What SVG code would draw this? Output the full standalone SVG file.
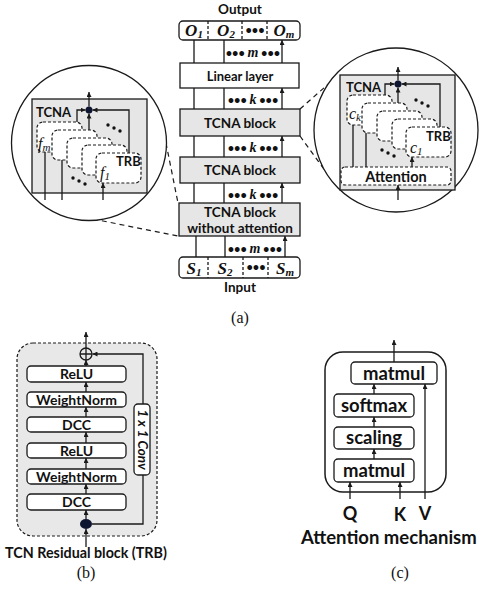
<svg xmlns="http://www.w3.org/2000/svg" width="480" height="593" viewBox="0 0 480 593">
<defs>
<marker id="ah" viewBox="0 0 10 10" refX="10" refY="5" markerWidth="5" markerHeight="5" orient="auto" markerUnits="userSpaceOnUse"><path d="M0,0 L10,5 L0,10 z" fill="#1a1a1a"/></marker>
<style>
.ln{stroke:#1a1a1a;stroke-width:1.3;fill:none}
.a{marker-end:url(#ah)}
.bx{stroke:#1a1a1a;stroke-width:1.3;fill:#fff}
.gy{stroke:#1a1a1a;stroke-width:1.3;fill:#e6e6e6}
.db{stroke:#1a1a1a;stroke-width:1.2;fill:#fff;stroke-dasharray:3,2}
.dl{stroke:#1a1a1a;stroke-width:1.2;fill:none;stroke-dasharray:5,4}
.t{font-family:Lato,'Open Sans',sans-serif;font-weight:bold;fill:#111}
.m{font-family:'Liberation Serif',serif;font-style:italic;fill:#111}
.mb{font-family:'Liberation Serif',serif;font-style:italic;font-weight:bold;fill:#111}
.c{text-anchor:middle}
.s{font-family:'Liberation Serif',serif;fill:#111;text-anchor:middle}
</style>
</defs>

<!-- Panel (a) main column -->
<g id="output-label"><text class="t c" x="240" y="13.5" font-size="13.5">Output</text></g>
<g id="output-row">
<rect class="bx" x="179" y="21" width="121" height="19" rx="4"/>
<line class="ln" x1="208" y1="21" x2="208" y2="40" stroke-dasharray="3,2"/>
<line class="ln" x1="242" y1="21" x2="242" y2="40" stroke-dasharray="3,2"/>
<line class="ln" x1="267" y1="21" x2="267" y2="40" stroke-dasharray="3,2"/>
<text class="mb c" x="194" y="36" font-size="17">O<tspan font-size="11" dy="2">1</tspan></text>
<text class="mb c" x="226" y="36" font-size="17">O<tspan font-size="11" dy="2">2</tspan></text>
<text class="t c" x="255" y="34" font-size="11">•••</text>
<text class="mb c" x="284" y="36" font-size="17">O<tspan font-size="11" dy="2">m</tspan></text>
</g>
<g id="linear-layer"><rect class="bx" x="180" y="63" width="119" height="25"/><text class="t c" x="240" y="80.5" font-size="13">Linear layer</text></g>
<g id="tcna-block-1"><rect class="gy" x="180" y="109" width="120" height="27"/><text class="t c" x="240" y="127.5" font-size="13.5">TCNA block</text></g>
<g id="tcna-block-2"><rect class="gy" x="180" y="157" width="120" height="26"/><text class="t c" x="240" y="175" font-size="13.5">TCNA block</text></g>
<g id="tcna-block-noatt"><rect class="gy" x="179" y="203" width="121" height="33"/><text class="t c" x="240" y="216.5" font-size="13.5">TCNA block</text><text class="t c" x="240" y="232.5" font-size="13.5">without attention</text></g>
<g id="input-row">
<rect class="bx" x="179" y="257" width="121" height="21" rx="4"/>
<line class="ln" x1="208" y1="257" x2="208" y2="278" stroke-dasharray="3,2"/>
<line class="ln" x1="243" y1="257" x2="243" y2="278" stroke-dasharray="3,2"/>
<line class="ln" x1="268" y1="257" x2="268" y2="278" stroke-dasharray="3,2"/>
<text class="mb c" x="194" y="273.5" font-size="17">S<tspan font-size="11" dy="2">1</tspan></text>
<text class="mb c" x="225" y="273.5" font-size="17">S<tspan font-size="11" dy="2">2</tspan></text>
<text class="t c" x="256" y="271" font-size="11">•••</text>
<text class="mb c" x="285" y="273.5" font-size="17">S<tspan font-size="11" dy="2">m</tspan></text>
</g>
<g id="input-label"><text class="t c" x="240" y="292" font-size="13.5">Input</text></g>

<g id="connectors-a">
<path class="ln a" d="M194,63V40M224,63V40M282,63V40"/>
<path class="ln a" d="M194,109V88M224,109V88M282,109V88"/>
<path class="ln a" d="M194,157V136M224,157V136M282,157V136"/>
<path class="ln a" d="M194,203V183M224,203V183M282,203V183"/>
<path class="ln a" d="M196,257V236M225,257V236M285,257V236"/>
<text class="t c" x="253" y="57" font-size="11">••• <tspan class="mb" font-size="14">m</tspan> •••</text>
<text class="t c" x="253" y="104" font-size="11">••• <tspan class="mb" font-size="14">k</tspan> •••</text>
<text class="t c" x="253" y="151.5" font-size="11">••• <tspan class="mb" font-size="14">k</tspan> •••</text>
<text class="t c" x="253" y="198.5" font-size="11">••• <tspan class="mb" font-size="14">k</tspan> •••</text>
<text class="t c" x="255" y="252.5" font-size="11">••• <tspan class="mb" font-size="14">m</tspan> •••</text>
<path class="dl" d="M166,143L178,203M93,219L178,236"/>
<path class="dl" d="M300,109L334,79M300,136L326,172"/>
</g>

<!-- Left zoom circle -->
<g id="zoom-left">
<circle cx="89" cy="143" r="77.5" fill="#fff" stroke="#1a1a1a" stroke-width="1.3"/>
<rect class="gy" x="32" y="99" width="115" height="94"/>
<text class="t" x="36" y="116.5" font-size="13">TCNA</text>
<rect class="db" x="37" y="122" width="45" height="30" rx="6"/>
<rect class="db" x="52" y="130" width="45" height="30" rx="6"/>
<rect class="db" x="67" y="138" width="45" height="30" rx="6"/>
<rect class="db" x="82" y="145" width="45" height="30" rx="6"/>
<rect class="db" x="96" y="153" width="45" height="30" rx="6"/>
<text class="m" x="38" y="149" font-size="16">f<tspan font-size="11" dy="2">m</tspan></text>
<text class="m" x="100" y="178" font-size="16">f<tspan font-size="11" dy="2">1</tspan></text>
<text class="t" x="116" y="166" font-size="13">TRB</text>
<path class="ln a" d="M77,122V110H85.5"/>
<path class="ln a" d="M89,130V113.5"/>
<path class="ln a" d="M129,153V110H92.5"/>
<path class="ln a" d="M89,106.5V92"/>
<circle cx="89" cy="110" r="3.5" fill="#0d1530"/>
<g fill="#111"><circle cx="108" cy="125" r="1.7"/><circle cx="114" cy="128" r="1.7"/><circle cx="120" cy="131" r="1.7"/><circle cx="73" cy="178" r="1.7"/><circle cx="79" cy="181" r="1.7"/><circle cx="85" cy="184" r="1.7"/></g>
<path class="ln a" d="M45,200V152M62,200V160M103,200V183"/>
</g>

<!-- Right zoom circle -->
<g id="zoom-right">
<circle cx="396" cy="130" r="82" fill="#fff" stroke="#1a1a1a" stroke-width="1.3"/>
<rect class="gy" x="340" y="75" width="115" height="115"/>
<text class="t" x="346" y="91.5" font-size="13">TCNA</text>
<rect class="db" x="347" y="95" width="45" height="30" rx="6"/>
<rect class="db" x="362" y="103" width="45" height="30" rx="6"/>
<rect class="db" x="377" y="111" width="45" height="30" rx="6"/>
<rect class="db" x="392" y="119" width="45" height="30" rx="6"/>
<rect class="db" x="406" y="127" width="45" height="30" rx="6"/>
<text class="m" x="349" y="119" font-size="16">c<tspan font-size="11" dy="2">k</tspan></text>
<text class="m" x="410" y="153" font-size="16">c<tspan font-size="11" dy="2">1</tspan></text>
<text class="t" x="426" y="141" font-size="13">TRB</text>
<path class="ln a" d="M385,95V84H394.5"/>
<path class="ln a" d="M398,103V87.5"/>
<path class="ln a" d="M440,127V84H401.5"/>
<path class="ln a" d="M398,80.5V67"/>
<circle cx="398" cy="84" r="3.5" fill="#0d1530"/>
<g fill="#111"><circle cx="416" cy="100" r="1.7"/><circle cx="422" cy="103" r="1.7"/><circle cx="428" cy="106" r="1.7"/><circle cx="382" cy="150" r="1.7"/><circle cx="388" cy="153" r="1.7"/><circle cx="394" cy="156" r="1.7"/></g>
<rect class="db" x="341" y="167" width="110" height="18" rx="4"/>
<text class="t c" x="396" y="181.5" font-size="14.5">Attention</text>
<path class="ln a" d="M353,167V125M366,167V133M412,167V157"/>
<path class="ln a" d="M398,200V185"/>
</g>
<g id="label-a"><text class="s" x="240" y="323" font-size="16">(a)</text></g>

<!-- Panel (b) -->
<g id="trb">
<rect x="17" y="343" width="140" height="193" rx="16" fill="#e8e8e8" stroke="#1a1a1a" stroke-width="1.2" stroke-dasharray="3,2"/>
<circle cx="86" cy="354" r="6" fill="none" stroke="#1a1a1a" stroke-width="1.3"/>
<path class="ln" d="M80,354H92M86,348V360"/>
<path class="ln a" d="M86,348V332"/>
<g id="b-relu2"><rect class="bx" x="27" y="366" width="99" height="16" rx="4"/><text class="t c" x="76.5" y="379" font-size="14">ReLU</text></g>
<g id="b-wn2"><rect class="bx" x="27" y="392" width="99" height="15" rx="4"/><text class="t c" x="76.5" y="404.5" font-size="14">WeightNorm</text></g>
<g id="b-dcc2"><rect class="bx" x="27" y="417" width="99" height="15" rx="4"/><text class="t c" x="76.5" y="429.5" font-size="14">DCC</text></g>
<g id="b-relu1"><rect class="bx" x="27" y="443" width="99" height="15" rx="4"/><text class="t c" x="76.5" y="455.5" font-size="14">ReLU</text></g>
<g id="b-wn1"><rect class="bx" x="27" y="469" width="99" height="15" rx="4"/><text class="t c" x="76.5" y="481.5" font-size="14">WeightNorm</text></g>
<g id="b-dcc1"><rect class="bx" x="27" y="494" width="99" height="16" rx="4"/><text class="t c" x="76.5" y="507" font-size="14">DCC</text></g>
<g id="b-conv"><rect class="bx" x="134" y="404" width="16" height="71" rx="4"/><text class="t c" font-style="italic" font-size="13.5" transform="translate(142,439.5) rotate(90)" y="4.5">1 x 1 Conv</text></g>
<path class="ln a" d="M86,366V360"/>
<path class="ln a" d="M86,392V382"/>
<path class="ln a" d="M86,417V407"/>
<path class="ln a" d="M86,443V432"/>
<path class="ln a" d="M86,469V458"/>
<path class="ln a" d="M86,494V484"/>
<path class="ln a" d="M86,519.5V510"/>
<path class="ln a" d="M86,547V529"/>
<path class="ln" d="M92,524H143V475"/>
<path class="ln a" d="M143,404V354H92.5"/>
<ellipse cx="86" cy="524" rx="6" ry="5" fill="#0d1530"/>
<text class="t c" x="86" y="558" font-size="14.3">TCN Residual block (TRB)</text>
</g>
<g id="label-b"><text class="s" x="86" y="578" font-size="16">(b)</text></g>

<!-- Panel (c) -->
<g id="attention">
<rect x="325" y="352" width="121" height="140" rx="18" fill="#fff" stroke="#1a1a1a" stroke-width="1.5"/>
<g id="c-matmul2"><rect class="bx" x="351" y="362" width="86" height="22" rx="4"/><text class="t c" x="394" y="379.5" font-size="18.5">matmul</text></g>
<g id="c-softmax"><rect class="bx" x="334" y="394" width="80" height="23" rx="4"/><text class="t c" x="374" y="411.5" font-size="18.5">softmax</text></g>
<g id="c-scaling"><rect class="bx" x="334" y="427" width="80" height="22" rx="4"/><text class="t c" x="374" y="443.5" font-size="18.5">scaling</text></g>
<g id="c-matmul1"><rect class="bx" x="334" y="459" width="80" height="23" rx="4"/><text class="t c" x="374" y="476.5" font-size="18.5">matmul</text></g>
<path class="ln a" d="M394,362V340"/>
<path class="ln a" d="M374,394V384"/>
<path class="ln a" d="M374,427V417"/>
<path class="ln a" d="M374,459V449"/>
<path class="ln a" d="M425,499V384"/>
<path class="ln a" d="M350,499V482"/>
<path class="ln a" d="M400,499V482"/>
<text class="t c" x="350" y="520" font-size="18">Q</text>
<text class="t c" x="400" y="521" font-size="18">K</text>
<text class="t c" x="425" y="520" font-size="18">V</text>
<text class="t" x="301" y="544" font-size="18.5">Attention mechanism</text>
</g>
<g id="label-c"><text class="s" x="400" y="578" font-size="16">(c)</text></g>
</svg>
